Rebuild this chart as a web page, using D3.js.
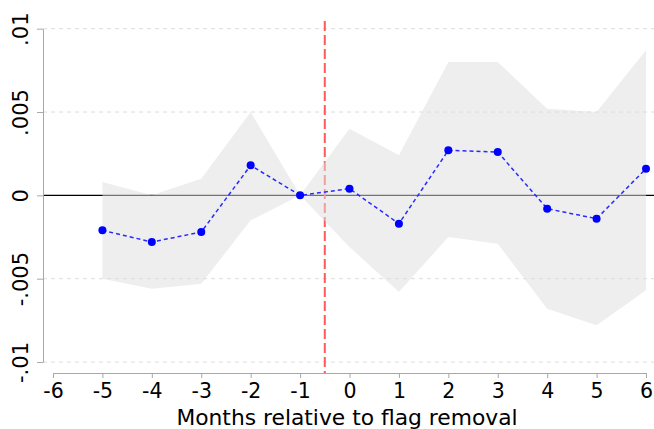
<!DOCTYPE html>
<html>
<head>
<meta charset="utf-8">
<script src="https://cdn.jsdelivr.net/npm/d3@7"></script>
<style>
  html, body { margin: 0; padding: 0; background: #fff; }
  svg { display: block; }
  text { font-family: "DejaVu Sans", sans-serif; fill: #000; }
</style>
</head>
<body>
<svg id="chart" width="654" height="429"></svg>
<script>
// Data
const months = [-5, -4, -3, -2, -1, 0, 1, 2, 3, 4, 5, 6];
const estimate = [-0.0021, -0.0028, -0.0022, 0.0018, 0.0, 0.0004, -0.0017, 0.0027, 0.0026, -0.0008, -0.0014, 0.0016];
const ciUpper = [0.0008, 0.0000, 0.0010, 0.0050, 0.0, 0.0040, 0.0024, 0.0080, 0.0080, 0.0052, 0.0050, 0.0087];
const ciLower = [-0.0050, -0.0056, -0.0053, -0.0015, 0.0, -0.0031, -0.0058, -0.0025, -0.0029, -0.0068, -0.0078, -0.0057];
const xTicks = [-6, -5, -4, -3, -2, -1, 0, 1, 2, 3, 4, 5, 6];
const yTicks = [-0.01, -0.005, 0, 0.005, 0.01];
const yTickLabels = ["-.01", "-.005", "0", ".005", ".01"];
const eventLine = -0.5;
const xTitle = "Months relative to flag removal";

const svg = d3.select("#chart");
const x = d3.scaleLinear().domain([-6, 6]).range([53, 646]);
const y = d3.scaleLinear().domain([-0.01, 0.01]).range([362, 28.7]);
const plotLeft = 43, plotRight = 654;

// Gridlines
svg.append("g").selectAll("line").data(yTicks.filter(d => d !== 0)).join("line")
  .attr("x1", plotLeft).attr("x2", plotRight)
  .attr("y1", d => y(d)).attr("y2", d => y(d))
  .attr("stroke", "#dcdcdc").attr("stroke-width", 1).attr("stroke-dasharray", "4,4");

// Zero line
svg.append("line").attr("x1", plotLeft).attr("x2", plotRight)
  .attr("y1", y(0)).attr("y2", y(0)).attr("stroke", "#000").attr("stroke-width", 1.3);

// Event line
svg.append("line").attr("x1", x(eventLine)).attr("x2", x(eventLine))
  .attr("y1", 21).attr("y2", 373)
  .attr("stroke", "#ff5a5a").attr("stroke-width", 2).attr("stroke-dasharray", "10,4");

// CI band
const area = d3.area().x((d, i) => x(months[i])).y0((d, i) => y(ciLower[i])).y1((d, i) => y(ciUpper[i]));
svg.append("path").datum(months).attr("d", area)
  .attr("fill", "#dedede").attr("fill-opacity", 0.52);

// Estimate line
const line = d3.line().x((d, i) => x(months[i])).y((d, i) => y(estimate[i]));
svg.append("path").datum(months).attr("d", line)
  .attr("fill", "none").attr("stroke", "#2a2aff").attr("stroke-width", 1.5).attr("stroke-dasharray", "4,3");
svg.append("g").selectAll("circle").data(months).join("circle")
  .attr("cx", (d) => x(d)).attr("cy", (d, i) => y(estimate[i])).attr("r", 4)
  .attr("fill", "#0000ff");

// X axis
const xAxis = svg.append("g").attr("transform", "translate(0,373)")
  .call(d3.axisBottom(x).tickValues(xTicks).tickSize(5).tickSizeOuter(0).tickPadding(5).tickFormat(d3.format("d")));
xAxis.select(".domain").attr("stroke", "#a8a8a8");
xAxis.selectAll(".tick line").attr("stroke", "#a8a8a8");
xAxis.selectAll("text").attr("font-size", 20.5).attr("font-family", "DejaVu Sans").attr("fill", "#000")
  .text(d => d < 0 ? "-" + Math.abs(d) : d);

// Y axis
const yAxis = svg.append("g").attr("transform", `translate(${plotLeft},0)`)
  .call(d3.axisLeft(y).tickValues(yTicks).tickSize(6).tickSizeOuter(0).tickFormat((d, i) => yTickLabels[i]));
yAxis.select(".domain").attr("stroke", "#a8a8a8");
yAxis.selectAll(".tick line").attr("stroke", "#a8a8a8");
yAxis.selectAll("text").attr("font-size", 21).attr("font-family", "DejaVu Sans").attr("fill", "#000")
  .attr("x", null).attr("dy", null).attr("text-anchor", "middle")
  .attr("transform", "translate(-15.5,0) rotate(-90)");

// X title
svg.append("text").attr("x", (x(-6) + x(6)) / 2 - 2.5).attr("y", 425)
  .attr("text-anchor", "middle").attr("font-size", 21.8).text(xTitle);
</script>
</body>
</html>
